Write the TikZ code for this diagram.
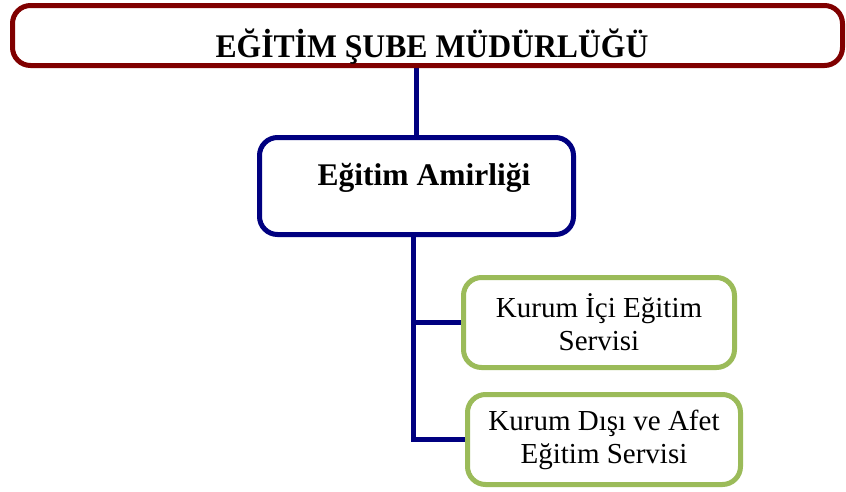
\documentclass[tikz,border=0pt]{standalone}
\usepackage{fontspec}
\setmainfont{Liberation Serif}
\usetikzlibrary{backgrounds}
\definecolor{bordo}{HTML}{800000}
\definecolor{lacivert}{HTML}{000080}
\definecolor{yesil}{HTML}{9BBB59}

\begin{document}
\begin{tikzpicture}[x=1pt,y=-1pt,
  kutu/.style={draw,rounded corners=18pt,line width=5pt,fill=white,align=center,inner sep=0pt},
  hat/.style={lacivert,line width=5pt}]
\useasboundingbox (0,0) rectangle (846,491);

\node[kutu,draw=bordo,minimum width=830pt,minimum height=60pt,text height=44pt,text depth=0pt,
  font=\bfseries\fontsize{33}{36}\selectfont\addfontfeature{FakeStretch=0.96}] (mudur) at (427.5,35.5)
  {\hspace*{9pt}EĞİTİM ŞUBE MÜDÜRLÜĞÜ};
\node[kutu,draw=lacivert,minimum width=314pt,minimum height=97pt,text height=22pt,text depth=24pt,
  font=\bfseries\fontsize{31.5}{34}\selectfont] (amir) at (416.5,186) {\hspace*{15pt}Eğitim Amirliği};

% servisler
\node[kutu,draw=yesil,minimum width=271pt,minimum height=90pt,
  font=\fontsize{29}{33}\selectfont] (ici) at (599,322.5) {Kurum İçi Eğitim\\Servisi};
\node[kutu,draw=yesil,minimum width=273pt,minimum height=90pt,
  font=\fontsize{29}{33}\selectfont] (disi) at (604,439.5) {Kurum Dışı ve Afet\\Eğitim Servisi};

\begin{scope}[on background layer]
\draw[hat] (amir.north) -- (amir.north |- mudur.south);
\draw[hat] ([xshift=-3.5pt]amir.south) |- (ici.west);
\draw[hat] ([xshift=-3.5pt]amir.south) |- (disi.west);
\end{scope}
\end{tikzpicture}
\end{document}
